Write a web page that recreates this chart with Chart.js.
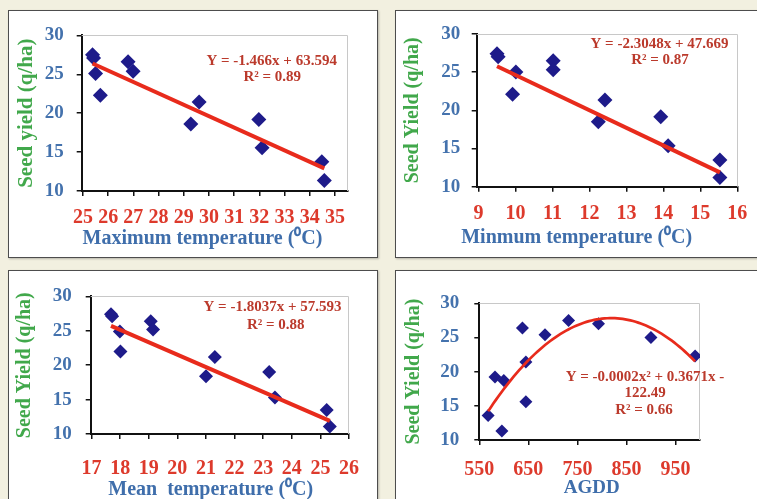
<!DOCTYPE html>
<html>
<head>
<meta charset="utf-8">
<script src="https://cdn.jsdelivr.net/npm/chart.js@4/dist/chart.umd.min.js"></script>
<style>
  html, body { margin: 0; padding: 0; }
  body { width: 757px; height: 499px; overflow: hidden; position: relative; background: #f2f0e0; }
  .panel { position: absolute; background: #ffffff; border: 1px solid #4d4d4d; box-shadow: 1px 1px 2px rgba(0,0,0,0.25); }
  .panel canvas { display: block; }
</style>
</head>
<body>
<div class="panel" style="left:8px;top:10px;width:368px;height:246px"><canvas id="c1" width="368" height="246"></canvas></div>
<div class="panel" style="left:395px;top:10px;width:366px;height:246px"><canvas id="c2" width="366" height="246"></canvas></div>
<div class="panel" style="left:8px;top:270px;width:368px;height:240px"><canvas id="c3" width="368" height="240"></canvas></div>
<div class="panel" style="left:395px;top:270px;width:366px;height:240px"><canvas id="c4" width="366" height="240"></canvas></div>
<script>
// ---------------- data ----------------
const yTicks = [10, 15, 20, 25, 30];

const maxTemp  = [25.38, 25.42, 25.50, 25.69, 26.79, 26.99, 29.28, 29.61, 31.98, 32.11, 34.48, 34.58];
const yieldMax = [27.5, 27.1, 25.1, 22.3, 26.6, 25.4, 18.6, 21.45, 19.2, 15.55, 13.75, 11.35];
const maxTicks = [25, 26, 27, 28, 29, 30, 31, 32, 33, 34, 35];
const maxFit   = [-1.466, 63.594];
const maxEq    = ['Y = -1.466x + 63.594', 'R² = 0.89'];

const minTemp  = [9.50, 9.53, 10.01, 9.92, 11.02, 11.02, 12.24, 12.42, 13.93, 14.13, 15.53, 15.53];
const yieldMin = [27.4, 27.0, 25.0, 22.1, 26.5, 25.3, 18.5, 21.35, 19.15, 15.35, 13.5, 11.2];
const minTicks = [9, 10, 11, 12, 13, 14, 15, 16];
const minFit   = [-2.3048, 47.669];
const minEq    = ['Y = -2.3048x + 47.669', 'R² = 0.87'];

const meanTemp  = [17.68, 17.72, 17.99, 18.01, 19.07, 19.15, 21.00, 21.31, 23.21, 23.41, 25.22, 25.33];
const yieldMean = [27.4, 27.1, 24.9, 22.0, 26.4, 25.2, 18.4, 21.2, 19.0, 15.3, 13.5, 11.1];
const meanTicks = [17, 18, 19, 20, 21, 22, 23, 24, 25, 26];
const meanFit   = [-1.8037, 57.593];
const meanEq    = ['Y = -1.8037x + 57.593', 'R² = 0.88'];

const agdd      = [568, 582, 596, 600, 638, 645, 645, 684, 732, 793, 900, 990];
const yieldAgdd = [13.6, 19.2, 11.3, 18.7, 26.4, 21.4, 15.6, 25.4, 27.5, 27.0, 25.0, 22.3];
const agddTicks = [550, 650, 750, 850, 950];
const agddEq    = ['Y = -0.0002x² + 0.3671x -', '122.49', 'R² = 0.66'];

// ---------------- styles ----------------
const SERIF = '"Liberation Serif", "Times New Roman", serif';
const C_MARK = '#1e1b8a';
const C_LINE = '#e82b1c';
const C_YTICK = '#4472ad';
const C_XTICK = '#dd3a2c';
const C_YTITLE = '#41a84b';
const C_XTITLE = '#3f6eab';
const C_EQ = '#bb3a2c';

Chart.defaults.font.family = SERIF;
Chart.defaults.animation = false;

// least-squares quadratic fit (Excel polynomial trendline, order 2)
function quadFit(xs, ys) {
  const n = xs.length;
  const mx = xs.reduce((a, b) => a + b, 0) / n;
  let S = [[0,0,0],[0,0,0],[0,0,0]], T = [0,0,0];
  for (let i = 0; i < n; i++) {
    const u = xs[i] - mx, p = [1, u, u*u];
    for (let r = 0; r < 3; r++) { T[r] += p[r]*ys[i]; for (let c = 0; c < 3; c++) S[r][c] += p[r]*p[c]; }
  }
  for (let k = 0; k < 3; k++) {
    for (let r = k+1; r < 3; r++) {
      const f = S[r][k]/S[k][k];
      for (let c = k; c < 3; c++) S[r][c] -= f*S[k][c];
      T[r] -= f*T[k];
    }
  }
  const b = [0,0,0];
  for (let r = 2; r >= 0; r--) {
    let s = T[r];
    for (let c = r+1; c < 3; c++) s -= S[r][c]*b[c];
    b[r] = s/S[r][r];
  }
  return x => b[0] + b[1]*(x-mx) + b[2]*(x-mx)*(x-mx);
}

function linePoints(xs, fn, steps) {
  const lo = Math.min(...xs), hi = Math.max(...xs), pts = [];
  for (let i = 0; i <= steps; i++) { const x = lo + (hi-lo)*i/steps; pts.push({x, y: fn(x)}); }
  return pts;
}

function decorPlugin(cfg) {
  return {
    id: 'decor',
    beforeDatasetsDraw(chart) {
      const {ctx, chartArea: a} = chart;
      ctx.save();
      ctx.strokeStyle = '#c8c8c8'; ctx.lineWidth = 1;
      ctx.beginPath();
      ctx.moveTo(a.left, Math.round(a.top) + 0.5);
      ctx.lineTo(Math.round(a.right) - 0.5, Math.round(a.top) + 0.5);
      ctx.lineTo(Math.round(a.right) - 0.5, a.bottom);
      ctx.stroke();
      ctx.restore();
    },
    afterDraw(chart) {
      const ctx = chart.ctx;
      ctx.save();
      ctx.textAlign = 'center'; ctx.textBaseline = 'middle';
      ctx.fillStyle = C_EQ; ctx.font = 'bold 15px ' + SERIF;
      cfg.eq.forEach((t, i) => ctx.fillText(t, cfg.eqPos[i][0], cfg.eqPos[i][1]));
      ctx.fillStyle = C_XTITLE; ctx.font = 'bold ' + cfg.xTitleSize + 'px ' + SERIF;
      ctx.fillText(cfg.xTitle, cfg.xTitlePos[0], cfg.xTitlePos[1]);
      ctx.restore();
    }
  };
}

function makeChart(id, p) {
  const pts = p.xs.map((x, i) => ({x, y: p.ys[i]}));
  new Chart(document.getElementById(id), {
    type: 'scatter',
    data: {
      datasets: [
        { type: 'line', data: p.trend, borderColor: C_LINE, borderWidth: p.lineW, pointRadius: 0,
          tension: 0, fill: false, order: 0 },
        { data: pts, pointStyle: 'rectRot', pointRadius: p.r, pointHoverRadius: p.r,
          backgroundColor: C_MARK, borderColor: C_MARK, borderWidth: 0, order: 1 }
      ]
    },
    options: {
      responsive: false,
      layout: { padding: { top: p.padTop, right: p.padRight, bottom: 0, left: 0 } },
      plugins: { legend: { display: false }, tooltip: { enabled: false } },
      scales: {
        x: {
          type: 'linear', min: p.xMin, max: p.xMax,
          afterBuildTicks: s => { s.ticks = p.xTicks.map(v => ({value: v})); },
          afterFit: s => { s.height = p.xAxisH; },
          grid: { drawOnChartArea: false, drawTicks: true, tickLength: 5, color: '#111', lineWidth: 1.5 },
          border: { color: '#111', width: 2 },
          ticks: { color: C_XTICK, font: { size: 20, weight: 'bold' }, padding: p.xPad,
                   autoSkip: false, maxRotation: 0, minRotation: 0 }
        },
        y: {
          type: 'linear', min: 10, max: 30,
          afterBuildTicks: s => { s.ticks = yTicks.map(v => ({value: v})); },
          afterFit: s => { s.width = p.yAxisW; },
          grid: { drawOnChartArea: false, drawTicks: true, tickLength: 5, color: '#111', lineWidth: 1.5 },
          border: { color: '#111', width: 2 },
          ticks: { color: C_YTICK, font: { size: 19, weight: 'bold' }, padding: p.yPad },
          title: { display: true, text: p.yTitle, color: C_YTITLE,
                   font: { size: p.yTitleSize, weight: 'bold' }, padding: { top: p.yTitlePad, bottom: 0 } }
        }
      }
    },
    plugins: [decorPlugin(p)]
  });
}

makeChart('c1', {
  xs: maxTemp, ys: yieldMax, xTicks: maxTicks, xMin: 24.95, xMax: 35.5,
  trend: linePoints(maxTemp, x => maxFit[0]*x + maxFit[1], 1),
  lineW: 4, r: 7.5,
  padTop: 21, padRight: 29.5, xAxisH: 66, yAxisW: 72.7, xPad: 10, yPad: 13,
  yTitle: 'Seed yield (q/ha)', yTitleSize: 21, yTitlePad: 5,
  xTitle: 'Maximum temperature (⁰C)', xTitleSize: 20, xTitlePos: [193.5, 228],
  eq: maxEq, eqPos: [[262.7, 49.7], [263.3, 66.3]]
});

makeChart('c2', {
  xs: minTemp, ys: yieldMin, xTicks: minTicks, xMin: 8.95, xMax: 16.02,
  trend: linePoints(minTemp, x => minFit[0]*x + minFit[1], 1),
  lineW: 4, r: 7.5,
  padTop: 14, padRight: 24, xAxisH: 70.3, yAxisW: 80.7, xPad: 10, yPad: 11.5,
  yTitle: 'Seed Yield (q/ha)', yTitleSize: 20, yTitlePad: 4.5,
  xTitle: 'Minmum temperature (⁰C)', xTitleSize: 20, xTitlePos: [180.7, 226.5],
  eq: minEq, eqPos: [[263.5, 33.5], [264, 48.7]]
});

makeChart('c3', {
  xs: meanTemp, ys: yieldMean, xTicks: meanTicks, xMin: 16.97, xMax: 26.0,
  trend: linePoints(meanTemp, x => meanFit[0]*x + meanFit[1], 1),
  lineW: 4, r: 7,
  padTop: 14, padRight: 27.5, xAxisH: 77, yAxisW: 81.7, xPad: 18, yPad: 14,
  yTitle: 'Seed Yield (q/ha)', yTitleSize: 20, yTitlePad: 4,
  xTitle: 'Mean  temperature (⁰C)', xTitleSize: 20, xTitlePos: [201.7, 219],
  eq: meanEq, eqPos: [[263.5, 35.7], [266.8, 54]]
});

const agddCurve = quadFit(agdd, yieldAgdd);
makeChart('c4', {
  xs: agdd, ys: yieldAgdd, xTicks: agddTicks, xMin: 550, xMax: 1000,
  trend: linePoints(agdd, agddCurve, 80),
  lineW: 2.7, r: 6.5,
  padTop: 32.3, padRight: 62, xAxisH: 71, yAxisW: 83.3, xPad: 13, yPad: 15,
  yTitle: 'Seed Yield (q/ha)', yTitleSize: 20, yTitlePad: 6,
  xTitle: 'AGDD', xTitleSize: 19, xTitlePos: [195.7, 217],
  eq: agddEq, eqPos: [[249, 105.7], [249, 122.3], [248, 139]]
});
</script>
</body>
</html>
